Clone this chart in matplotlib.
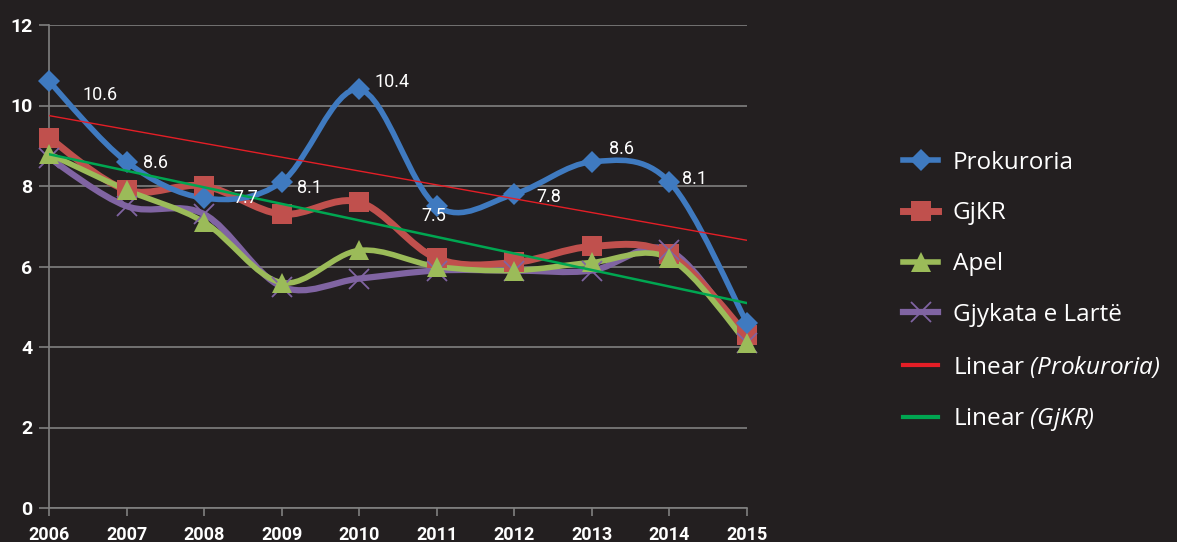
import numpy as np
import matplotlib
matplotlib.use('Agg')
import matplotlib.pyplot as plt
from matplotlib.path import Path
from matplotlib.patches import PathPatch
from matplotlib.lines import Line2D

plt.rcParams['mathtext.fontset'] = 'custom'
plt.rcParams['mathtext.rm'] = 'Open Sans:italic'
plt.rcParams['mathtext.it'] = 'Open Sans:italic'

# Data
years = [2006, 2007, 2008, 2009, 2010, 2011, 2012, 2013, 2014, 2015]
prokuroria = [10.6, 8.6, 7.7, 8.1, 10.4, 7.5, 7.8, 8.6, 8.1, 4.6]
gjkr = [9.2, 7.9, 8.0, 7.3, 7.6, 6.2, 6.1, 6.5, 6.3, 4.3]
apel = [8.8, 7.9, 7.1, 5.6, 6.4, 6.0, 5.9, 6.1, 6.2, 4.1]
gjykata = [8.7, 7.5, 7.3, 5.5, 5.7, 5.9, 5.9, 5.9, 6.4, 4.1]
y_ticks = [0, 2, 4, 6, 8, 10, 12]

# Label offsets (points) for the Prokuroria data labels
label_offsets = [(37, -10), (21, -1), (30, 0), (20, -4), (24, 5),
                 (-2, -7), (25, -2), (21, 9), (18, 2), None]

BG = '#231F20'
GRID = '#808080'
BLUE = '#3F7AC0'
RED = '#C0504D'
GREEN = '#9BBB59'
PURPLE = '#8064A2'


def smooth_path(xs, ys):
    # Excel-like smoothed line: cubic Bezier through the points
    pts = np.column_stack([xs, ys]).astype(float)
    n = len(pts)
    verts = [pts[0]]
    codes = [Path.MOVETO]
    for i in range(n - 1):
        p0 = pts[i - 1] if i > 0 else pts[i]
        p1 = pts[i]
        p2 = pts[i + 1]
        p3 = pts[i + 2] if i + 2 < n else pts[i + 1]
        verts += [p1 + (p2 - p0) / 6, p2 - (p3 - p1) / 6, p2]
        codes += [Path.CURVE4] * 3
    return Path(verts, codes)


fig = plt.figure(figsize=(11.77, 5.42), dpi=100, facecolor=BG)
ax = fig.add_axes([49 / 1177, 1 - 508 / 542, (747 - 49) / 1177, (508 - 25) / 542])
ax.set_facecolor(BG)

series = [
    ('Gjykata e Lartë', gjykata, PURPLE, 'x', 14, 2, 7),
    ('GjKR', gjkr, RED, 's', 15, 3, 6),
    ('Apel', apel, GREEN, '^', 15, 4, 8),
    ('Prokuroria', prokuroria, BLUE, 'D', 11, 5, 9),
]
lws = {'Gjykata e Lartë': 4.5, 'GjKR': 5.0, 'Apel': 4.0, 'Prokuroria': 4.0}

for name, vals, col, mk, ms, zl, zm in series:
    patch = PathPatch(smooth_path(years, vals), facecolor='none', edgecolor=col,
                      lw=lws[name], capstyle='round', joinstyle='round', zorder=zl)
    patch.set_clip_on(False)
    ax.add_patch(patch)
    if mk == 'x':
        ax.plot(years, vals, ls='none', marker=mk, ms=ms, mew=1.3, color=col,
                zorder=zm, clip_on=False)
    else:
        ax.plot(years, vals, ls='none', marker=mk, ms=ms, mew=0, color=col,
                zorder=zm, clip_on=False)

# Linear trendlines
xarr = np.array(years, dtype=float)
for vals, col, lw in [(prokuroria, '#E41E26', 1.0), (gjkr, '#00A651', 1.8)]:
    k, b = np.polyfit(xarr, vals, 1)
    ax.plot(xarr, k * xarr + b, color=col, lw=lw, zorder=10)

# Data labels
for x, v, off in zip(years, prokuroria, label_offsets):
    if off is None:
        continue
    ax.annotate(f'{v:.1f}', (x, v), xytext=off, textcoords='offset points',
                ha='center', va='center', color='white', fontsize=13,
                family='Roboto', zorder=11)

ax.set_xlim(2006, 2015)
ax.set_ylim(0, 12)
ax.set_xticks(years)
ax.set_xticklabels([str(y) for y in years])
ax.set_yticks(y_ticks)
ax.yaxis.grid(True, color=GRID, lw=1.2)
ax.set_axisbelow(True)
for s in ['top', 'right']:
    ax.spines[s].set_visible(False)
for s in ['left', 'bottom']:
    ax.spines[s].set_color(GRID)
    ax.spines[s].set_linewidth(1.2)
ax.tick_params(axis='y', length=7, width=1.2, color=GRID, pad=5,
               labelcolor='white', labelsize=14)
ax.tick_params(axis='x', length=6, width=1.2, color=GRID, pad=7,
               labelcolor='white', labelsize=13)
for lab in ax.get_xticklabels() + ax.get_yticklabels():
    lab.set_family('Roboto')
    lab.set_fontweight('bold')

# Legend
handles = [
    Line2D([], [], color=BLUE, lw=4, marker='D', ms=11, mew=0),
    Line2D([], [], color=RED, lw=5, marker='s', ms=15, mew=0),
    Line2D([], [], color=GREEN, lw=4, marker='^', ms=15, mew=0),
    Line2D([], [], color=PURPLE, lw=4.5, marker='x', ms=14, mew=1.3),
    Line2D([], [], color='#E41E26', lw=3),
    Line2D([], [], color='#00A651', lw=3),
]
labels = ['Prokuroria', 'GjKR', 'Apel', 'Gjykata e Lartë',
          r'Linear $(Prokuroria)$', r'Linear $(GjKR)$']
leg = fig.legend(handles, labels, loc='center left', bbox_to_anchor=(903 / 1177, 1 - 292 / 542),
                 frameon=False, handlelength=1.45, handletextpad=0.6,
                 labelspacing=1.1, borderpad=0, borderaxespad=0,
                 prop={'family': 'Open Sans', 'size': 17.5})
for t in leg.get_texts():
    t.set_color('white')

fig.savefig('out.png', dpi=100, facecolor=BG)
